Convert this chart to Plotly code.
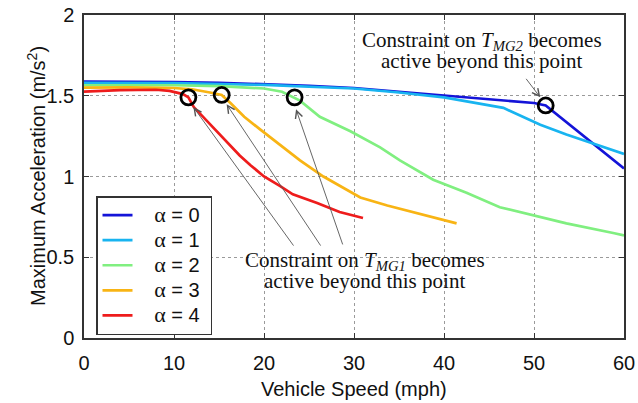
import plotly.graph_objects as go

# ---- data ----
labels = ["0", "1", "2", "3", "4"]
colors = ["#1414d8", "#18b4f0", "#80ef80", "#f8b414", "#ee1c1c"]

speed_a0 = [0, 5, 10, 15, 20, 25, 30, 35, 40, 45, 50, 51.3, 54, 57, 60]
accel_a0 = [1.588, 1.587, 1.585, 1.58, 1.572, 1.562, 1.548, 1.525, 1.50, 1.478, 1.455, 1.44, 1.32, 1.185, 1.05]

speed_a1 = [0, 10, 20, 30, 35, 40, 46.6, 50.7, 53.6, 57, 60]
accel_a1 = [1.58, 1.578, 1.567, 1.545, 1.52, 1.49, 1.425, 1.32, 1.26, 1.195, 1.14]

speed_a2 = [0, 5, 10, 15, 20, 22, 23.4, 24, 26.2, 29.6, 32.9, 35.1, 38.8, 42.5, 46.2, 49.9, 53.6, 58.8, 60]
accel_a2 = [1.565, 1.567, 1.565, 1.56, 1.545, 1.525, 1.49, 1.47, 1.37, 1.28, 1.18, 1.10, 0.98, 0.90, 0.81, 0.76, 0.71, 0.65, 0.635]

speed_a3 = [0, 5, 10, 12, 14, 15.3, 16.3, 17.8, 19.6, 22.2, 24, 26.6, 30.7, 33.7, 37.3, 41.4]
accel_a3 = [1.55, 1.552, 1.548, 1.54, 1.52, 1.505, 1.453, 1.37, 1.29, 1.18, 1.10, 1.0, 0.87, 0.82, 0.77, 0.71]

speed_a4 = [0, 4, 8, 9.5, 11, 11.6, 12.2, 14.1, 15.9, 17.3, 18.5, 20, 21.8, 23.2, 25.9, 28.4, 31]
accel_a4 = [1.525, 1.535, 1.537, 1.53, 1.51, 1.49, 1.43, 1.32, 1.21, 1.13, 1.07, 1.0, 0.94, 0.89, 0.836, 0.78, 0.743]

marker_speed = [11.6, 15.3, 23.4, 51.3]
marker_accel = [1.49, 1.505, 1.49, 1.44]

# arrows: (tail_x, tail_y, head_x, head_y)
mg1_tail_x = [23.4, 26.4, 28.8]
mg1_tail_y = [0.563, 0.563, 0.57]
mg1_head_x = [12.15, 15.85, 23.56]
mg1_head_y = [1.43, 1.447, 1.416]
mg2_tail = (49.0, 1.614)
mg2_head = (50.7, 1.49)

x_ticks = [0, 10, 20, 30, 40, 50, 60]
y_ticks = [0, 0.5, 1, 1.5, 2]

series = [(speed_a0, accel_a0), (speed_a1, accel_a1), (speed_a2, accel_a2),
          (speed_a3, accel_a3), (speed_a4, accel_a4)]

SANS = "Liberation Sans, Arial, sans-serif"
SERIF = "Liberation Serif, Times New Roman, serif"

fig = go.Figure()
for (xs, ys), lab, col in zip(series, labels, colors):
    fig.add_trace(go.Scatter(
        x=xs, y=ys, mode="lines",
        line=dict(color=col, width=2.7),
        name='<span style="font-size:20px">\u00a0\u00a0\u00a0</span>'
             '<span style="font-family:Liberation Serif;font-size:22px">α</span>'
             '<span style="font-size:20px"> = ' + lab + '\u00a0</span>',
    ))

fig.add_trace(go.Scatter(
    x=marker_speed, y=marker_accel, mode="markers", showlegend=False,
    marker=dict(symbol="circle-open", size=15, color="black", line=dict(width=2.8, color="black")),
))

annotations = []
for tx, ty, hx, hy in zip(mg1_tail_x, mg1_tail_y, mg1_head_x, mg1_head_y):
    annotations.append(dict(x=hx, y=hy, ax=tx, ay=ty, xref="x", yref="y", axref="x", ayref="y",
                            text="", showarrow=True, arrowhead=5, arrowsize=1.6,
                            arrowwidth=0.9, arrowcolor="#555555"))
annotations.append(dict(x=mg2_head[0], y=mg2_head[1], ax=mg2_tail[0], ay=mg2_tail[1],
                        xref="x", yref="y", axref="x", ayref="y",
                        text="", showarrow=True, arrowhead=5, arrowsize=1.6,
                        arrowwidth=0.9, arrowcolor="#555555"))

tfont = dict(family=SERIF, size=21, color="#111111")
annotations += [
    dict(x=44.2, y=1.839, xref="x", yref="y", showarrow=False, font=tfont,
         text="Constraint on <i>T</i><sub><i>MG2</i></sub> becomes"),
    dict(x=44.2, y=1.715, xref="x", yref="y", showarrow=False, font=tfont,
         text="active beyond this point"),
    dict(x=31.2, y=0.477, xref="x", yref="y", showarrow=False, font=tfont,
         text="Constraint on <i>T</i><sub><i>MG1</i></sub> becomes"),
    dict(x=31.2, y=0.353, xref="x", yref="y", showarrow=False, font=tfont,
         text="active beyond this point"),
    # axis titles
    dict(x=0.5, y=(338 - 389) / 323, xref="paper", yref="paper", showarrow=False,
         yanchor="middle", xanchor="center",
         font=dict(family=SANS, size=20, color="#111111"),
         text="Vehicle Speed (mph)"),
    dict(x=(22 - 84) / 540, y=0.5, xref="paper", yref="paper", showarrow=False,
         font=dict(family=SANS, size=20, color="#111111"),
         text="Maximum Acceleration (m/s<sup>2</sup>)", textangle=-90),
]

axis_common = dict(
    showline=True, linecolor="#333333", linewidth=1.5, mirror="ticks",
    ticks="inside", ticklen=5, tickwidth=1, tickcolor="#333333",
    showgrid=True, gridcolor="#9a9a9a", gridwidth=1, griddash="dot",
    zeroline=False,
    tickfont=dict(family=SANS, size=20, color="#111111"),
)

fig.update_layout(
    width=638, height=403,
    margin=dict(l=84, r=14, t=15, b=65, autoexpand=False),
    paper_bgcolor="white", plot_bgcolor="white",
    xaxis=dict(range=[0, 60], tickvals=x_ticks, ticktext=[str(v) for v in x_ticks],
               ticklabelstandoff=6, **axis_common),
    yaxis=dict(range=[0, 2], tickvals=y_ticks, ticktext=["0", "0.5", "1", "1.5", "2"],
               ticklabelstandoff=4, **axis_common),
    legend=dict(x=(96 - 84) / 540, y=(338 - 196) / 323, xanchor="left", yanchor="top",
                bgcolor="white", bordercolor="#333333", borderwidth=1.5,
                font=dict(family=SANS, size=17, color="#111111"),
                itemwidth=30, tracegroupgap=0),
    annotations=annotations,
    showlegend=True,
)

fig.write_html("out.html")
